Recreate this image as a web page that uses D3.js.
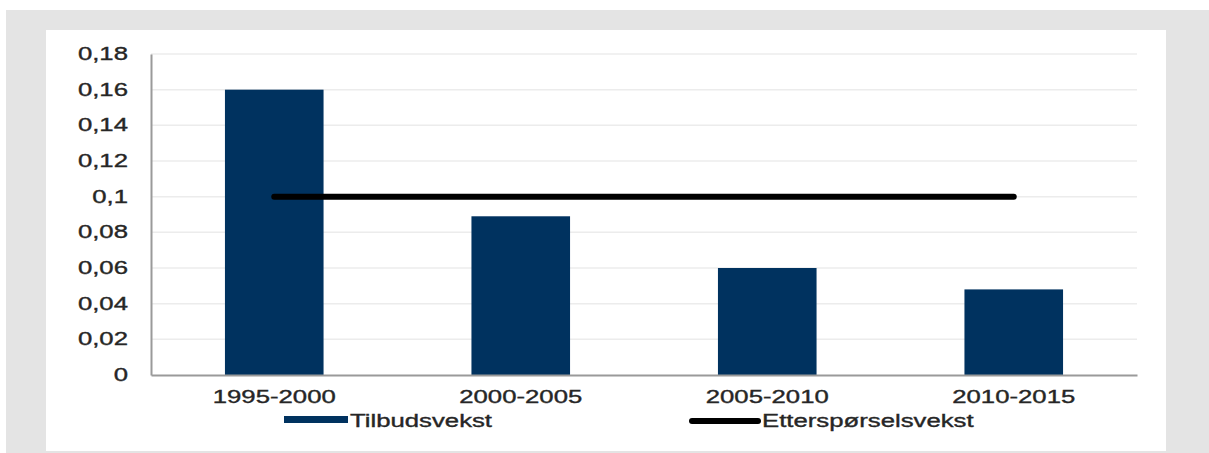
<!DOCTYPE html>
<html>
<head>
<meta charset="utf-8">
<script src="https://cdn.jsdelivr.net/npm/d3@7"></script>
<style>
  html, body { margin: 0; padding: 0; background: #fff; }
  svg { display: block; }
  text { font-family: "Liberation Sans", Arial, sans-serif; fill: #262626; stroke: #262626; stroke-width: 0.35px; }
</style>
</head>
<body>
<script>
// Periods on the x axis
const periods = ["1995-2000", "2000-2005", "2005-2010", "2010-2015"];
// Supply growth per period (bars)
const supplyGrowth = [0.16, 0.089, 0.06, 0.048];
// Demand growth per period (line)
const demandGrowth = [0.1, 0.1, 0.1, 0.1];
// Y axis ticks and their Norwegian-formatted labels
const yTicks = [0, 0.02, 0.04, 0.06, 0.08, 0.1, 0.12, 0.14, 0.16, 0.18];
const yTickLabels = ["0", "0,02", "0,04", "0,06", "0,08", "0,1", "0,12", "0,14", "0,16", "0,18"];
// Legend entries
const legendLabels = ["Tilbudsvekst", "Etterspørselsvekst"];

const W = 1209, H = 453;
const barColor = "#00325f";
const stretch = 1.47;      // wide-set lettering
const fontSize = 17.5;

const svg = d3.select("body").append("svg")
  .attr("width", W).attr("height", H);

// Backdrop and chart panel
svg.append("rect").attr("x", 6).attr("y", 10).attr("width", W - 6).attr("height", H - 10)
  .attr("fill", "#e4e4e4");
svg.append("rect").attr("x", 46).attr("y", 30).attr("width", 1120).attr("height", 421)
  .attr("fill", "#ffffff");

const plot = { left: 151, right: 1137, top: 54, bottom: 375 };

const x = d3.scaleBand()
  .domain(periods)
  .range([plot.left, plot.right])
  .paddingInner(0.6)
  .paddingOuter(0.3);

const y = d3.scaleLinear()
  .domain([0, 0.18])
  .range([plot.bottom, plot.top]);

// Helper for horizontally stretched text
function stretchedText(sel, tx, ty, str, anchor) {
  return sel.append("text")
    .attr("transform", `translate(${tx},${ty}) scale(${stretch},1)`)
    .attr("text-anchor", anchor)
    .attr("font-size", fontSize)
    .text(str);
}

// Gridlines
svg.append("g").selectAll("line")
  .data(yTicks.filter(d => d > 0))
  .join("line")
  .attr("x1", plot.left).attr("x2", plot.right)
  .attr("y1", d => y(d)).attr("y2", d => y(d))
  .attr("stroke", "#ececec").attr("stroke-width", 1.5);

// Y axis built from the scale, styled by hand
const yAxis = svg.append("g")
  .attr("transform", `translate(${plot.left},0)`)
  .call(d3.axisLeft(y).tickValues(yTicks).tickSize(0).tickFormat(""));
yAxis.select(".domain").attr("stroke", "#9a9a9a").attr("stroke-width", 2);
yTicks.forEach((t, i) => {
  stretchedText(svg, 128, y(t) + 6, yTickLabels[i], "end");
});

// Bars
svg.append("g").selectAll("rect")
  .data(periods)
  .join("rect")
  .attr("x", d => x(d))
  .attr("width", x.bandwidth())
  .attr("y", (d, i) => y(supplyGrowth[i]))
  .attr("height", (d, i) => y(0) - y(supplyGrowth[i]))
  .attr("fill", barColor);

// X axis
const xAxis = svg.append("g")
  .attr("transform", `translate(0,${plot.bottom})`)
  .call(d3.axisBottom(x).tickSize(0).tickFormat(""));
xAxis.select(".domain").attr("stroke", "#9a9a9a").attr("stroke-width", 2);
periods.forEach(p => {
  stretchedText(svg, x(p) + x.bandwidth() / 2, 403, p, "middle");
});

// Demand growth line
const line = d3.line()
  .x((d, i) => x(periods[i]) + x.bandwidth() / 2)
  .y(d => y(d));
svg.append("path")
  .datum(demandGrowth)
  .attr("d", line)
  .attr("fill", "none")
  .attr("stroke", "#000")
  .attr("stroke-width", 6)
  .attr("stroke-linecap", "round");

// Legend
svg.append("rect").attr("x", 284).attr("y", 416).attr("width", 64).attr("height", 7)
  .attr("fill", barColor);
stretchedText(svg, 350, 427, legendLabels[0], "start");

svg.append("line").attr("x1", 692).attr("x2", 758).attr("y1", 421).attr("y2", 421)
  .attr("stroke", "#000").attr("stroke-width", 6).attr("stroke-linecap", "round");
stretchedText(svg, 762, 427, legendLabels[1], "start");
</script>
</body>
</html>
